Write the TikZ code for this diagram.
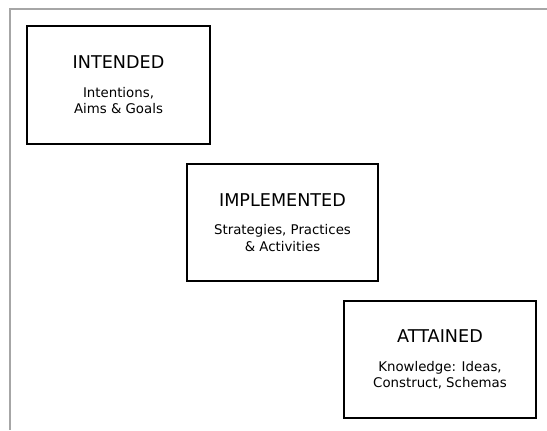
\documentclass[tikz,border=0pt]{standalone}
\usepackage{fontspec}
\setmainfont{DejaVu Sans}
\newcommand{\stagetitle}[1]{{\fontsize{13.2}{15.8}\selectfont #1}}

\begin{document}
\begin{tikzpicture}[x=0.75pt,y=-0.75pt,font=\fontsize{10}{12.5}\selectfont,
        stage/.style={draw,line width=1.1pt,align=center,inner sep=0pt}]
        \useasboundingbox (0,0) rectangle (547,430);
        \draw[black!35,line width=1.5pt] (9.5,430) -- (9.5,8.5) -- (547,8.5);
        \node[stage,minimum width=137.25pt,minimum height=88.5pt] (intended) at (118.5,85) {\stagetitle{INTENDED}\\[9pt]Intentions,\\Aims \& Goals};
        \node[stage,minimum width=143.25pt,minimum height=87.75pt] (implemented) at (282.5,222.5) {\stagetitle{IMPLEMENTED}\\[9pt]Strategies, Practices\\\& Activities};
        \node[stage,minimum width=144pt,minimum height=87.75pt] (attained) at (440,359.5) {\stagetitle{ATTAINED}\\[9pt]Knowledge: Ideas,\\Construct, Schemas};
    \end{tikzpicture}
\end{document}
